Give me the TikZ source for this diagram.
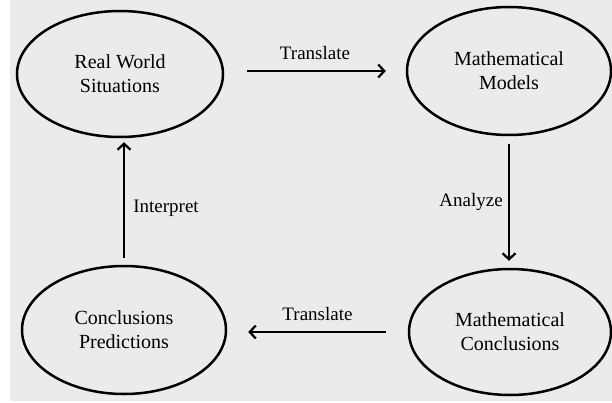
\documentclass[tikz,border=0pt]{standalone}
\usepackage{fontspec}
\setmainfont{Liberation Serif}
\usetikzlibrary{shapes.geometric,arrows.meta}
\definecolor{panel}{RGB}{235,235,235}
\tikzset{
  stage/.style={ellipse, draw=black, line width=2.5pt, inner sep=0pt,
    align=center, font=\fontsize{20}{24}\selectfont},
  flow/.style={line width=2.6pt, -{Straight Barb[length=6pt,width=13pt,line width=2.2pt]}},
  tag/.style={inner sep=0pt, font=\fontsize{19}{22}\selectfont}
}
\begin{document}
\begin{tikzpicture}[x=1pt,y=1pt]
  \useasboundingbox (0,0) rectangle (612,402);
  \fill[white] (0,0) rectangle (612,402);
  \fill[panel] (10,1) rectangle (612,402);

  % the four stages of the modelling cycle
  \node[stage, minimum width=206, minimum height=126] (rw) at (120,328) {Real World\\Situations};
  \node[stage, minimum width=204, minimum height=128] (mm) at (509,331) {Mathematical\\Models};
  \node[stage, minimum width=204, minimum height=128] (cp) at (124,72) {Conclusions\\Predictions};
  \node[stage, minimum width=202, minimum height=126] (mc) at (510,70) {Mathematical\\Conclusions};

  % connectors between the stages
  \draw[flow, shorten <=23pt, shorten >=20pt] (rw.east |- mm.west) -- (mm.west)
    node[tag, midway, above=10pt] {Translate};
  \draw[flow, shorten <=8pt, shorten >=7pt] (mm.south) -- (mm.south |- mc.north)
    node[tag, midway, left=5pt] {Analyze};
  \draw[flow, shorten <=22pt, shorten >=21pt] (mc.west) -- (mc.west -| cp.east)
    node[tag, midway, above=10pt] {Translate};
  \draw[flow, shorten <=7pt, shorten >=4pt] (cp.north) -- (cp.north |- rw.south)
    node[tag, pos=0.45, right=8pt] {Interpret};
\end{tikzpicture}
\end{document}
